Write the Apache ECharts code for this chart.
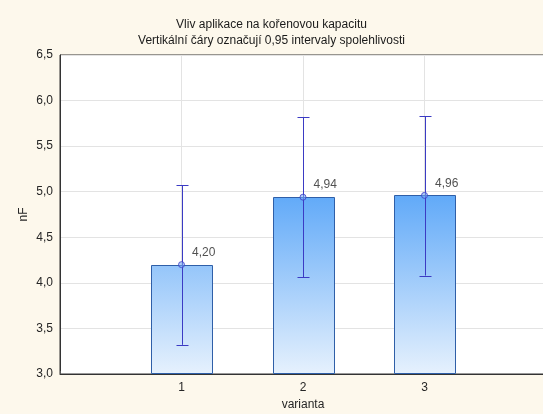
<!DOCTYPE html>
<html>
<head>
<meta charset="utf-8">
<script src="https://cdn.jsdelivr.net/npm/echarts@6/dist/echarts.min.js"></script>
<style>
  html, body { margin: 0; padding: 0; background: #fdf8ec; overflow: hidden; }
  #chart { width: 543px; height: 414px; }
</style>
</head>
<body>
<div id="chart"></div>
<script>
// Variants, group means and 0.95 confidence limits
var categories = [1, 2, 3];
var means = [4.20, 4.94, 4.96];
var lowerCI = [3.32, 4.06, 4.08];
var upperCI = [5.07, 5.82, 5.83];
var yTicks = [3.0, 3.5, 4.0, 4.5, 5.0, 5.5, 6.0, 6.5];

var FONT = '"Liberation Sans", Arial, sans-serif';
var TEXT = '#262626';
var fmt = function (v) { return v.toFixed(1).replace('.', ','); };
var fmt2 = function (v) { return v.toFixed(2).replace('.', ','); };

var barData = categories.map(function (c, i) { return [c, means[i]]; });
var errData = categories.map(function (c, i) { return [c, lowerCI[i], upperCI[i]]; });
var meanData = categories.map(function (c, i) { return [c, means[i]]; });

var chart = echarts.init(document.getElementById('chart'), null, { renderer: 'canvas' });

chart.setOption({
  backgroundColor: '#fdf8ec',
  animation: false,
  title: {
    text: 'Vliv aplikace na kořenovou kapacitu\nVertikální čáry označují 0,95 intervaly spolehlivosti',
    left: 'center',
    top: 12,
    textStyle: { fontFamily: FONT, fontSize: 12, fontWeight: 'normal', color: '#1a1a1a', lineHeight: 16 }
  },
  grid: {
    left: 60, top: 55, width: 486, height: 319,
    outerBoundsMode: 'none',
    containLabel: false,
    show: true, backgroundColor: '#ffffff', borderColor: '#333', borderWidth: 1
  },
  xAxis: {
    type: 'value', min: 0, max: 4, interval: 1,
    name: 'varianta', nameLocation: 'middle', nameGap: 25, nameMoveOverlap: false,
    nameTextStyle: { fontFamily: FONT, fontSize: 12, color: TEXT },
    axisLine: { show: true, lineStyle: { color: '#333' } },
    axisTick: { show: true, inside: true, length: 3, lineStyle: { color: '#555' } },
    axisLabel: {
      fontFamily: FONT, fontSize: 12, color: TEXT, margin: 8,
      formatter: function (v) { return categories.indexOf(v) >= 0 ? String(v) : ''; }
    },
    splitLine: { show: true, lineStyle: { color: '#e3e3e3' } }
  },
  yAxis: {
    type: 'value', min: yTicks[0], max: yTicks[yTicks.length - 1], interval: 0.5,
    name: 'nF', nameLocation: 'middle', nameGap: 30, nameRotate: 90, nameMoveOverlap: false,
    nameTextStyle: { fontFamily: FONT, fontSize: 12, color: TEXT },
    axisLine: { show: true, lineStyle: { color: '#333' } },
    axisTick: { show: false },
    axisLabel: { fontFamily: FONT, fontSize: 12, color: TEXT, margin: 7, formatter: fmt },
    splitLine: { show: true, lineStyle: { color: '#e3e3e3' } }
  },
  series: [
    {
      // bars drawn from the axis floor up to the mean, shaded over the plot height
      type: 'custom',
      data: barData,
      renderItem: function (params, api) {
        var x = api.value(0), v = api.value(1);
        var top = api.coord([x, v]);
        var base = api.coord([x, yTicks[0]]);
        var ref = api.coord([x, 5.0]);
        var w = api.size([1, 0])[0] * 0.5;
        var fill = new echarts.graphic.LinearGradient(0, ref[1], 0, base[1], [
          { offset: 0, color: '#5ea8f8' },
          { offset: 1, color: '#e6f1fd' }
        ], true);
        return {
          type: 'rect',
          shape: { x: Math.round(top[0] - w / 2) + 0.5, y: Math.round(top[1]) + 0.5, width: Math.round(w), height: Math.round(base[1] - top[1]) - 1 },
          style: { fill: fill, stroke: '#2f5fa8', lineWidth: 1 }
        };
      },
      z: 2
    },
    {
      // 0.95 confidence interval whiskers
      type: 'custom',
      data: errData,
      renderItem: function (params, api) {
        var x = api.value(0);
        var lo = api.coord([x, api.value(1)]);
        var hi = api.coord([x, api.value(2)]);
        var cx = Math.round(lo[0]) + 0.5;
        var half = 6;
        var st = { stroke: '#3b3bc4', lineWidth: 1 };
        return {
          type: 'group',
          children: [
            { type: 'line', shape: { x1: cx, y1: hi[1], x2: cx, y2: lo[1] }, style: st },
            { type: 'line', shape: { x1: cx - half, y1: Math.round(hi[1]) + 0.5, x2: cx + half, y2: Math.round(hi[1]) + 0.5 }, style: st },
            { type: 'line', shape: { x1: cx - half, y1: Math.round(lo[1]) + 0.5, x2: cx + half, y2: Math.round(lo[1]) + 0.5 }, style: st }
          ]
        };
      },
      z: 3
    },
    {
      // mean markers with value labels
      type: 'scatter',
      data: meanData,
      symbol: 'circle',
      symbolSize: 6,
      itemStyle: { color: 'rgba(120,170,245,0.7)', borderColor: '#3b3bc4', borderWidth: 1 },
      label: {
        show: true,
        position: 'right',
        offset: [2, -12],
        fontFamily: FONT, fontSize: 12, color: TEXT,
        formatter: function (p) { return fmt2(p.value[1]); }
      },
      z: 4
    }
  ]
});
</script>
</body>
</html>
